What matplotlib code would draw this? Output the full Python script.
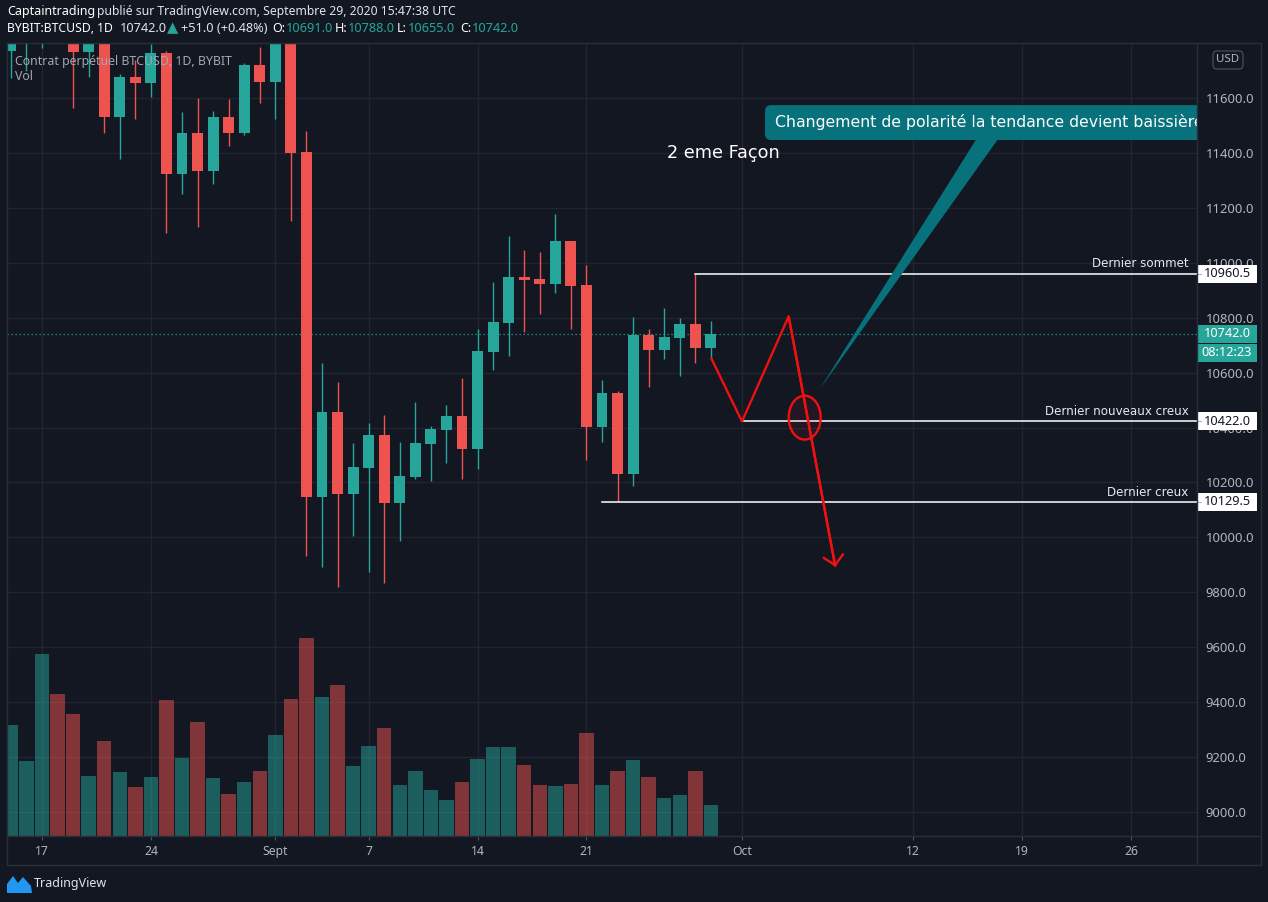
import matplotlib
matplotlib.use("Agg")
import matplotlib.pyplot as plt
import matplotlib.dates as mdates
import matplotlib.transforms as mtransforms
from matplotlib.patches import Rectangle, Ellipse, FancyBboxPatch, Polygon
from matplotlib.lines import Line2D
import numpy as np
import pandas as pd

# ---------------- data (BYBIT:BTCUSD, 1D) ----------------
start_date = "2020-08-15"
opens = [11770, 11860, 11910, 12300, 11960, 11767, 11860, 11532, 11676, 11656,
         11765, 11324, 11473, 11335, 11531, 11474, 11720, 11659, 11920, 11403,
         10148, 10457, 10159, 10254, 10373, 10126, 10221, 10341, 10391, 10442,
         10323, 10675, 10781, 10948, 10940, 10923, 11079, 10919, 10402, 10526,
         10231, 10737, 10682, 10726, 10777, 10691]
highs = [11990, 11930, 12470, 12400, 12020, 11880, 11880, 11687, 11738, 11797,
         11770, 11549, 11600, 11553, 11596, 11727, 11786, 12070, 11950, 11480,
         10635, 10566, 10344, 10416, 10446, 10347, 10493, 10406, 10482, 10580,
         10759, 10930, 11097, 11046, 11039, 11178, 11079, 10992, 10573, 10533,
         10802, 10759, 10835, 10799, 10960.5, 10788]
lows = [11674, 11698, 11782, 11805, 11565, 11678, 11474, 11379, 11525, 11605,
        11109, 11251, 11131, 11288, 11426, 11466, 11583, 11525, 11153, 9933,
        9893, 9820, 10006, 9875, 9835, 9988, 10214, 10206, 10272, 10214,
        10250, 10610, 10662, 10749, 10814, 10890, 10760, 10283, 10347, 10129.5,
        10187, 10548, 10650, 10588, 10635, 10655]
closes = [11860, 11910, 12300, 11960, 11767, 11860, 11532, 11676, 11656, 11765,
          11324, 11473, 11335, 11531, 11474, 11720, 11659, 11920, 11401, 10148,
          10457, 10159, 10256, 10373, 10126, 10223, 10344, 10395, 10442, 10323,
          10679, 10784, 10948, 10937, 10923, 11079, 10915, 10402, 10526, 10231,
          10737, 10682, 10730, 10777, 10691, 10742]
volumes = [111, 75, 182, 142, 122, 60, 95, 64, 49, 59,
           136, 78, 114, 58, 42, 54, 65, 101, 137, 198,
           139, 151, 70, 90, 108, 51, 65, 46, 36, 54,
           77, 89, 89, 71, 51, 50, 52, 103, 51, 65,
           76, 59, 38, 41, 65, 31]

price_ticks = [9000, 9200, 9400, 9600, 9800, 10000, 10200, 10400, 10600,
               10800, 11000, 11200, 11400, 11600]
date_tick_dates = ["2020-08-17", "2020-08-24", "2020-09-01", "2020-09-07",
                   "2020-09-14", "2020-09-21", "2020-10-01", "2020-10-12",
                   "2020-10-19", "2020-10-26"]
date_tick_labels = ["17", "24", "Sept", "7", "14", "21", "Oct", "12", "19", "26"]

last_price = 10742.0
countdown = "08:12:23"

level_names = ["Dernier sommet", "Dernier nouveaux creux", "Dernier creux"]
level_prices = [10960.5, 10422.0, 10129.5]
level_starts = ["2020-09-28", "2020-10-01", "2020-09-22"]

path_dates = ["2020-09-29", "2020-10-01", "2020-10-04", "2020-10-07"]
path_prices = [10655, 10422, 10805, 9893]

circle_date, circle_price = "2020-10-05", 10436
callout_text = "Changement de polarité la tendance devient baissière"
callout_tip = ("2020-10-06", 10540)
note_text = "2 eme Façon"

# ---------------- style ----------------
BG = "#131722"
GRID = "#222531"
BORDER = "#2a2e39"
UP = "#26a69a"
DOWN = "#ef5350"
TXT = "#b2b5be"
W, H = 1268, 902
UI = ["Noto Sans", "DejaVu Sans"]

fig = plt.figure(figsize=(W / 100, H / 100), dpi=100, facecolor=BG)
rect = [7 / W, 1 - 836 / H, 1190 / W, 793 / H]
ax = fig.add_axes(rect)
ax.set_facecolor(BG)
for s in ax.spines.values():
    s.set_visible(False)

dates = pd.date_range(start_date, periods=len(opens), freq="D")
x = mdates.date2num(dates.values)
o = np.array(opens, float); c = np.array(closes, float)
hi = np.array(highs, float); lo = np.array(lows, float)
up = c >= o
cols = np.where(up, UP, DOWN)

def dn(s):
    return mdates.date2num(np.datetime64(s))

x17 = dn("2020-08-17")
ax.set_xlim(x17 - 2.25, x17 + 74.25)
ax.set_ylim(8912.5, 11800.3)

# grid
ax.set_xticks([dn(d) for d in date_tick_dates])
ax.set_xticklabels(date_tick_labels)
ax.set_yticks(price_ticks)
ax.yaxis.set_major_formatter(matplotlib.ticker.FuncFormatter(lambda v, p: f"{v:.1f}"))
ax.yaxis.tick_right()
ax.grid(True, color=GRID, lw=1.0)
ax.set_axisbelow(True)
ax.tick_params(axis="y", length=0, pad=6.3, labelsize=9.4, labelcolor=TXT)
ax.tick_params(axis="x", length=3, width=0.8, color="#50535e", pad=3.8,
               labelsize=8.8, labelcolor=TXT)
for lab in ax.get_xticklabels() + ax.get_yticklabels():
    lab.set_family(UI)

# candles
ax.vlines(x, lo, hi, colors=cols, lw=1.0, zorder=3)
ax.bar(x, np.abs(c - o), bottom=np.minimum(o, c), width=0.7, color=cols,
       zorder=4, linewidth=0)

# current price line
ax.axhline(last_price, color=UP, lw=0.9, ls=(0, (1, 2.2)), zorder=2)

# levels
blend = mtransforms.blended_transform_factory(ax.transAxes, ax.transData)
for name, p, st in zip(level_names, level_prices, level_starts):
    ax.plot([dn(st), x17 + 80], [p, p], color="white", lw=1.1, zorder=5)
    ax.annotate(name, xy=(1, p), xycoords=blend, xytext=(-6, 7),
                textcoords="offset points", ha="right", va="center",
                color="#e6e8ee", fontsize=8.6, zorder=6)

# red drawing
px_ = [dn(d) for d in path_dates]
ax.plot(px_, path_prices, color="#f01010", lw=1.7, zorder=6,
        solid_joinstyle="miter", solid_capstyle="butt")
ax.annotate("", xy=(px_[-1], path_prices[-1]), xytext=(px_[-2], path_prices[-2]),
            arrowprops=dict(arrowstyle="->,head_length=0.67,head_width=0.71",
                            color="#f01010", lw=1.7, shrinkA=0, shrinkB=0,
                            mutation_scale=10), zorder=6)
ax.add_patch(Ellipse((dn(circle_date) + 0.03, circle_price), 2.06, 160,
                     facecolor=(0.9, 0.1, 0.2, 0.08), edgecolor="#f01010",
                     lw=1.7, zorder=6))

# callout
TEAL2 = "#08727c"
aspect = (15.556) / (0.27462)
box_l = dn("2020-10-02") + 0.48
ax.add_patch(FancyBboxPatch((box_l, 11447), 40, 127,
                            boxstyle="round,pad=0,rounding_size=0.4",
                            mutation_aspect=aspect, facecolor=TEAL2,
                            edgecolor="none", zorder=7))
ax.add_patch(Polygon([(dn("2020-10-16") + 0.17, 11460),
                      (dn("2020-10-17") + 0.58, 11460),
                      (dn(callout_tip[0]), callout_tip[1])],
                     closed=True, facecolor=TEAL2, edgecolor="none", zorder=7))
ax.text(dn("2020-10-03") + 0.12, 11511, callout_text, color="white",
        fontsize=11.3, va="center", ha="left", zorder=8, clip_on=True)
ax.text(dn("2020-09-26") + 0.2, 11400, note_text, color="white",
        fontsize=12.7, va="center", ha="left", zorder=8)

# volume pane
axv = fig.add_axes(rect, sharex=ax)
axv.patch.set_visible(False)
axv.bar(x, volumes, width=0.93, color=cols, alpha=0.5, linewidth=0)
axv.set_ylim(0, 793)
axv.axis("off")
ax.set_xlim(x17 - 2.25, x17 + 74.25)

# ---------------- price-scale boxes (display pixels) ----------------
ident = mtransforms.IdentityTransform()
fig.canvas.draw()

def ypx(p):
    return ax.transData.transform((x17, p))[1]

def pbox(p_pix, text, fc, tc):
    fig.add_artist(Rectangle((1197, p_pix - 9), 60, 18, transform=ident,
                             facecolor=fc, edgecolor="none", zorder=10))
    fig.text(1227, p_pix, text, transform=ident, ha="center", va="center",
             color=tc, fontsize=9.2, family=UI, zorder=11)

for p in level_prices:
    yy = ypx(p)
    pbox(yy, f"{p:.1f}", "white", "#131722")
    fig.add_artist(Line2D([1197, 1201], [yy, yy], transform=ident,
                          color="#b2b5be", lw=0.8, zorder=12))
yl = ypx(last_price)
pbox(yl, f"{last_price:.1f}", UP, "white")
pbox(yl - 19, countdown, UP, "white")

# USD box
fig.add_artist(FancyBboxPatch((1213, H - 69), 30, 18, transform=ident,
                              boxstyle="round,pad=0,rounding_size=4",
                              facecolor=BG, edgecolor="#50535e", lw=0.8))
fig.text(1228, H - 60, "USD", transform=ident, ha="center", va="center",
         color=TXT, fontsize=8.3, family=UI)

# borders
def fline(x0, y0, x1, y1):
    fig.add_artist(Line2D([x0, x1], [H - y0, H - y1], transform=ident,
                          color=BORDER, lw=1.0, zorder=20))

fline(7, 43, 1261, 43)
fline(7, 836, 1261, 836)
fline(7, 865, 1261, 865)
fline(7, 43, 7, 865)
fline(1197, 43, 1197, 865)
fline(1261, 43, 1261, 865)

# ---------------- header ----------------
def ht(xp, yp, s, color="white", bold=False, size=9, z=3):
    fig.text(xp / W, 1 - yp / H, s, color=color, fontsize=size,
             fontweight="bold" if bold else "normal", family=UI,
             ha="left", va="center", zorder=z)

ht(7, 12, "Captaintrading", bold=True)
ht(97, 12, "publié sur TradingView.com, Septembre 29, 2020 15:47:38 UTC",
   color="#e0e3eb", size=8.8)
ht(7, 29, "BYBIT:BTCUSD, 1D", bold=True, size=8.8)
ht(120, 29, "10742.0", color="#e0e3eb", size=9.2)
ht(167, 29, "▲", color=UP, size=10.5)
ht(181, 29, "+51.0 (+0.48%)", color="#e0e3eb", size=9.2)
seg = [(272, "O:", 286, "10691.0"), (335, "H:", 348, "10788.0"),
       (397, "L:", 408, "10655.0"), (460, "C:", 472, "10742.0")]
for xa, la, xb, va in seg:
    ht(xa, 29, la, bold=True)
    ht(xb, 29, va, color=UP, size=9.2)

ht(15, 61, "Contrat perpétuel BTCUSD, 1D, BYBIT", color="#a3a6af", size=8.9, z=15)
ht(15, 77, "Vol", color="#a3a6af", size=8.9, z=15)

# TradingView logo
fig.add_artist(Polygon([(7, H - 893), (7, H - 884), (13, H - 876), (18, H - 883),
                        (23, H - 877), (31, H - 886), (32, H - 893)],
                       closed=True, transform=ident, facecolor="#2196f3",
                       edgecolor="none"))
ht(34, 883, "TradingView", color="#e0e3eb", size=9)

fig.savefig("out.png", dpi=100, facecolor=BG)
